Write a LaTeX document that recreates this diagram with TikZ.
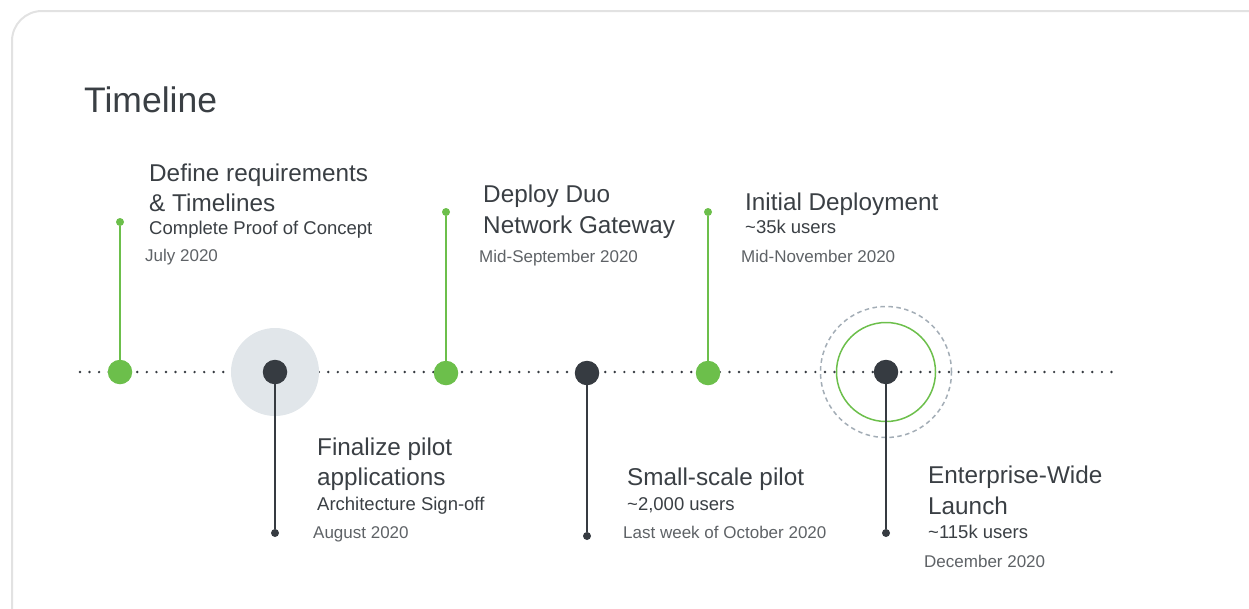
\documentclass[tikz,border=0pt]{standalone}
\usepackage{fontspec}
\setmainfont{Liberation Sans}
\definecolor{tlgreen}{HTML}{6CBF4B}
\definecolor{tldark}{HTML}{363B41}
\definecolor{tlhalo}{HTML}{E1E6EA}
\definecolor{tlring}{HTML}{A3ADB6}
\definecolor{tltext}{HTML}{3A3F44}
\definecolor{tldate}{HTML}{5E6266}
\definecolor{tlframe}{HTML}{E2E2E2}
\tikzset{
  milestone/.style={circle,fill=#1,minimum size=24.5pt,inner sep=0pt},
  tipdot/.style={circle,fill=#1,minimum size=8pt,inner sep=0pt},
  stem/.style={draw=#1,line width=2.2pt},
  heading/.style={anchor=base west,inner sep=0pt,text=tltext,font=\fontsize{24.3}{30}\selectfont},
  subline/.style={anchor=base west,inner sep=0pt,text=tltext,font=\fontsize{18.5}{22}\selectfont},
  dateline/.style={anchor=base west,inner sep=0pt,text=tldate,font=\fontsize{17}{20}\selectfont}
}
\begin{document}
\begin{tikzpicture}[x=1pt,y=-1pt]
  \useasboundingbox (0,0) rectangle (1249,608);
  \draw[tlframe,line width=2pt,rounded corners=30pt] (12,11) rectangle (1290,650);
  \node[anchor=base west,inner sep=0pt,text=tltext,font=\fontsize{35.5}{40}\selectfont] (title) at (84,112) {Timeline};
  % axis
  \coordinate (axisL) at (80,372);
  \coordinate (axisR) at (1113,372);
  \draw[tldark,line width=2.7pt,line cap=round,dash pattern=on 0pt off 9.55pt] (axisL) -- (axisR);
  % highlights
  \node[circle,fill=tlhalo,minimum size=88pt,inner sep=0pt] (halo) at (275,372) {};
  \node[circle,draw=tlgreen,line width=1.5pt,minimum size=99pt,inner sep=0pt] (ring) at (886,372) {};
  \node[circle,draw=tlring,line width=1.5pt,dash pattern=on 4.5pt off 3.5pt,minimum size=131pt,inner sep=0pt] (dashring) at (886,372) {};
  % stem ends
  \node[tipdot=tlgreen] (tipA) at (120,222) {};
  \node[tipdot=tldark] (tipB) at (275,533) {};
  \node[tipdot=tlgreen] (tipC) at (446,212) {};
  \node[tipdot=tldark] (tipD) at (587,536) {};
  \node[tipdot=tlgreen] (tipE) at (708,212) {};
  \node[tipdot=tldark] (tipF) at (886,533) {};
  % milestones
  \node[milestone=tlgreen] (mA) at (120,372) {};
  \node[milestone=tldark] (mB) at (275,372) {};
  \node[milestone=tlgreen] (mC) at (446,373) {};
  \node[milestone=tldark] (mD) at (587,373) {};
  \node[milestone=tlgreen] (mE) at (708,373) {};
  \node[milestone=tldark] (mF) at (886,372) {};
  \draw[stem=tlgreen] (tipA) -- (mA);
  \draw[stem=tldark] (mB) -- (tipB);
  \draw[stem=tlgreen] (tipC) -- (mC);
  \draw[stem=tldark] (mD) -- (tipD);
  \draw[stem=tlgreen] (tipE) -- (mE);
  \draw[stem=tldark] (mF) -- (tipF);
  % labels
  \node[heading] (hA1) at (149,181) {Define requirements};
  \node[heading] (hA2) at (149,211) {\& Timelines};
  \node[subline] (sA) at (149,234) {Complete Proof of Concept};
  \node[dateline] (dA) at (145,261) {July 2020};
  \node[heading] (hB1) at (317,455) {Finalize pilot};
  \node[heading] (hB2) at (317,485) {applications};
  \node[subline] (sB) at (317,510) {Architecture Sign-off};
  \node[dateline] (dB) at (313,538) {August 2020};
  \node[heading] (hC1) at (483,202) {Deploy Duo};
  \node[heading] (hC2) at (483,233) {Network Gateway};
  \node[dateline] (dC) at (479,262) {Mid-September 2020};
  \node[heading] (hD) at (627,485) {Small-scale pilot};
  \node[subline] (sD) at (627,510) {\textasciitilde 2,000 users};
  \node[dateline] (dD) at (623,538) {Last week of October 2020};
  \node[heading] (hE) at (745,210) {Initial Deployment};
  \node[subline] (sE) at (745,233) {\textasciitilde 35k users};
  \node[dateline] (dE) at (741,262) {Mid-November 2020};
  \node[heading] (hF1) at (928,483) {Enterprise-Wide};
  \node[heading] (hF2) at (928,514) {Launch};
  \node[subline] (sF) at (928,538) {\textasciitilde 115k users};
  \node[dateline] (dF) at (924,567) {December 2020};
\end{tikzpicture}
\end{document}
